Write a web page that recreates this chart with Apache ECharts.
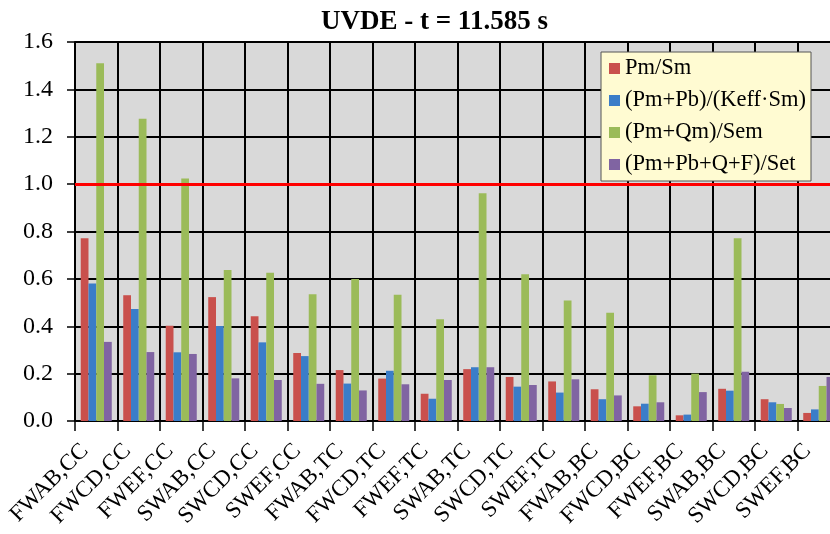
<!DOCTYPE html>
<html>
<head>
<meta charset="utf-8">
<script src="https://cdn.jsdelivr.net/npm/echarts@6/dist/echarts.min.js"></script>
<style>
html,body{margin:0;padding:0;background:#fff;}
#chart{width:830px;height:534px;}
</style>
</head>
<body>
<div id="chart"></div>
<script>
const categories = ['FWAB,CC','FWCD,CC','FWEF,CC','SWAB,CC','SWCD,CC','SWEF,CC',
  'FWAB,TC','FWCD,TC','FWEF,TC','SWAB,TC','SWCD,TC','SWEF,TC',
  'FWAB,BC','FWCD,BC','FWEF,BC','SWAB,BC','SWCD,BC','SWEF,BC'];
const seriesNames = ['Pm/Sm','(Pm+Pb)/(Keff·Sm)','(Pm+Qm)/Sem','(Pm+Pb+Q+F)/Set'];
const pmSm   = [0.771,0.531,0.402,0.523,0.442,0.287,0.215,0.179,0.115,0.219,0.186,0.167,0.134,0.062,0.024,0.136,0.092,0.034];
const pmPbK  = [0.580,0.473,0.290,0.401,0.332,0.274,0.158,0.212,0.094,0.227,0.145,0.120,0.092,0.073,0.027,0.128,0.079,0.049];
const pmQm   = [1.510,1.276,1.024,0.637,0.626,0.535,0.599,0.533,0.430,0.962,0.619,0.509,0.457,0.193,0.200,0.772,0.072,0.148];
const pmAll  = [0.334,0.291,0.283,0.180,0.173,0.157,0.129,0.155,0.173,0.227,0.152,0.176,0.108,0.079,0.122,0.208,0.055,0.186];
const limitValue = 1.0;
const yTicks = [0,0.2,0.4,0.6,0.8,1.0,1.2,1.4,1.6];
const titleText = 'UVDE - t = 11.585 s';

const colors = ['#c9504c','#3b7dc8','#9bbb59','#8064a2'];
const values = [pmSm, pmPbK, pmQm, pmAll];
const serif = '"Liberation Serif","DejaVu Serif",serif';

const chart = echarts.init(document.getElementById('chart'), null, {renderer:'canvas'});
const series = values.map((v,i)=>({
  name: seriesNames[i],
  type: 'bar',
  data: v,
  barGap: '0%',
  barCategoryGap: '27%',
  itemStyle: {color: colors[i]},
  animation: false,
  markLine: i===0 ? {
    silent: true,
    symbol: ['none','none'],
    label: {show:false},
    lineStyle: {color:'#ff0000', width:3, type:'solid'},
    data: [{yAxis: limitValue}],
    animation: false,
    z: 10
  } : undefined
}));

chart.setOption({
  animation: false,
  backgroundColor: '#ffffff',
  title: {
    text: titleText,
    left: 316,
    top: 4,
    textStyle: {fontFamily: serif, fontWeight: 'bold', fontSize: 27, color: '#000'}
  },
  legend: {
    data: seriesNames,
    orient: 'vertical',
    left: 601,
    top: 52,
    itemWidth: 11,
    itemHeight: 11,
    itemGap: 9,
    padding: [5, 5, 5, 8],
    backgroundColor: '#fffbd2',
    borderColor: '#555555',
    borderWidth: 1,
    icon: 'rect',
    textStyle: {fontFamily: serif, fontSize: 22.5, color: '#000'}
  },
  grid: {
    left: 75, top: 42, width: 765, height: 379,
    containLabel: false,
    outerBoundsMode: 'none',
    show: true, backgroundColor: '#d9d9d9', borderWidth: 0
  },
  xAxis: {
    type: 'category',
    data: categories,
    boundaryGap: true,
    axisLine: {show: true, lineStyle: {color:'#000', width: 2}},
    axisTick: {show: true, length: 10, lineStyle:{color:'#000', width: 1.5}, interval: 0},
    splitLine: {show: true, interval: 0, lineStyle: {color:'#000', width: 2}},
    axisLabel: {
      interval: 0, rotate: 45, margin: 15,
      padding: [0, 16, 0, 0],
      fontFamily: serif, fontSize: 23, color: '#000'
    }
  },
  yAxis: {
    type: 'value',
    min: 0, max: 1.6, interval: 0.2,
    axisLine: {show: true, lineStyle: {color:'#000', width: 2}},
    axisTick: {show: true, length: 8, lineStyle:{color:'#000', width: 1.5}},
    splitLine: {show: true, lineStyle: {color:'#000', width: 2}},
    axisLabel: {
      margin: 22,
      fontFamily: serif, fontSize: 24, color: '#000',
      formatter: v => (yTicks.indexOf(Math.round(v*10)/10) >= 0 ? v.toFixed(1) : '')
    }
  },
  series: series
});
</script>
</body>
</html>
